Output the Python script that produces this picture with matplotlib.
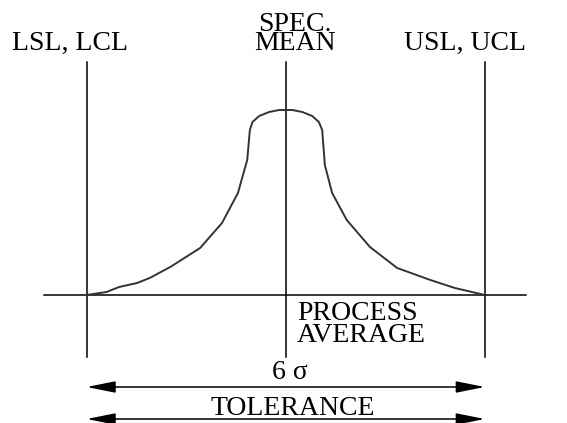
import matplotlib.pyplot as plt

# spec limits / mean, in sigma units
limit_positions = [-3.0, 0.0, 3.0]
limit_labels = ["LSL, LCL", "SPEC.\nMEAN", "USL, UCL"]

# process curve (x in sigma, height in arbitrary units)
curve_x = [-3.0, -2.7, -2.51, -2.24, -2.05, -1.74, -1.29, -0.96, -0.72, -0.58,
           -0.54, -0.50, -0.40, -0.25, -0.10, 0.0, 0.10, 0.25, 0.40, 0.50,
           0.55, 0.59, 0.70, 0.92, 1.27, 1.68, 2.18, 2.55, 3.0]
curve_y = [0, 3, 8, 12, 17, 28, 47, 72, 102, 135,
           165, 173, 179, 183, 185, 185, 185, 183, 179, 173,
           165, 130, 102, 75, 48, 27, 15, 7, 0]

spread_label = "6 σ"
tolerance_label = "TOLERANCE"
average_label = "PROCESS\nAVERAGE"


def px(x):
    # pixel column of the original drawing -> sigma units
    return (x - 285.7) / 66.35


def py(y):
    # pixel row of the original drawing -> height units
    return 295 - y


def draw_diagram(output_file):
    fig = plt.figure(figsize=(5.67, 4.23), dpi=100)
    ax = fig.add_axes([0, 0, 1, 1])
    ax.set_xlim(px(0), px(567))
    ax.set_ylim(py(423), py(0))
    ax.axis("off")

    font = dict(family="Liberation Serif", fontsize=20, color="black")

    # baseline
    ax.plot([px(44), px(526)], [0, 0], color="black", lw=1.1)

    # limit lines
    for xpos in limit_positions:
        ax.plot([xpos, xpos], [py(62), py(357)], color="black", lw=1.1)

    # curve
    ax.plot(curve_x, curve_y, color="#333333", lw=1.4, solid_joinstyle="round")

    # top labels
    ax.text(px(70), py(50), limit_labels[0], ha="center", va="baseline", **font)
    ax.text(px(465), py(50), limit_labels[2], ha="center", va="baseline", **font)
    ax.text(px(295), py(50), limit_labels[1], ha="center", va="baseline",
            multialignment="center", linespacing=0.68, **font)

    # process average
    ax.text(px(297), py(342), average_label, ha="left", va="baseline",
            multialignment="left", linespacing=0.84, **font)

    # arrows
    arrow = dict(arrowstyle="<|-|>,head_length=1.1,head_width=0.22",
                 color="black", lw=1.1, shrinkA=0, shrinkB=0, mutation_scale=16)
    for yrow in [387, 419]:
        ax.annotate("", xy=(limit_positions[0], py(yrow)),
                    xytext=(limit_positions[2], py(yrow)), arrowprops=arrow)

    ax.text(px(290), py(379), spread_label, ha="center", va="baseline", **font)
    ax.text(px(293), py(415), tolerance_label, ha="center", va="baseline", **font)

    fig.savefig(output_file, dpi=100, facecolor="white")


if __name__ == "__main__":
    draw_diagram("out.png")
